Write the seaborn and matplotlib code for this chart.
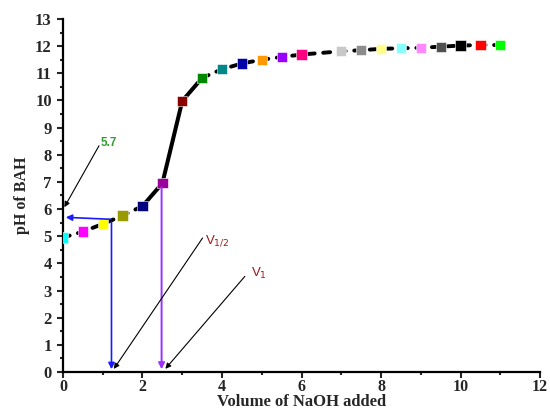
import matplotlib
matplotlib.use("Agg")
import matplotlib.pyplot as plt
from matplotlib.ticker import MultipleLocator
import seaborn as sns
import pandas as pd

# titration data
volume = [0, 0.5, 1, 1.5, 2, 2.5, 3, 3.5, 4, 4.5, 5, 5.5, 6,
          7, 7.5, 8, 8.5, 9, 9.5, 10, 10.5, 11]
ph = [4.95, 5.17, 5.45, 5.76, 6.11, 6.95, 9.98, 10.83, 11.15, 11.36, 11.5, 11.6, 11.69,
      11.81, 11.85, 11.9, 11.92, 11.94, 11.98, 12.02, 12.04, 12.04]
marker_colors = ['#00ffff', '#ff00ff', '#ffff00', '#999900', '#000080', '#990099',
                 '#880000', '#008800', '#008888', '#0000aa', '#ff9900', '#9900ff',
                 '#ff0080', '#c8c8c8', '#8c8c8c', '#ffff88', '#88ffff', '#ff88ff',
                 '#505050', '#000000', '#ff0000', '#00ff00']

v_half = 1.22
ph_half = 5.67
v_eq = 2.48

df = pd.DataFrame({'volume': volume, 'ph': ph, 'point': range(len(volume))})

sns.set_style("white")
plt.rcParams['font.family'] = ['Liberation Serif', 'DejaVu Serif']

fig = plt.figure(figsize=(5.5, 4.12), dpi=100)
ax = fig.add_axes([0.1145, 0.097, 0.8675, 0.857])

# curve: dashed on the flat parts, solid across the jump
steep = df[(df.volume >= 2) & (df.volume <= 3.5)]
low = df[df.volume <= 2]
high = df[df.volume >= 3.5]
for part in [low, high]:
    sns.lineplot(data=part, x='volume', y='ph', color='black', linewidth=2.8,
                 linestyle=(0, (1.8, 2.2)), dash_capstyle='round', ax=ax,
                 sort=False, zorder=2)
sns.lineplot(data=steep, x='volume', y='ph', color='black', linewidth=2.9,
             ax=ax, sort=False, zorder=2)

sns.scatterplot(data=df, x='volume', y='ph', hue='point', palette=marker_colors,
                marker='s', s=55, edgecolor='white', linewidth=0.4, legend=False,
                ax=ax, zorder=3)

# half-equivalence construction (blue) and equivalence (violet)
ax.annotate('', xy=(v_half, 0), xytext=(v_half, ph_half - 0.05),
            arrowprops=dict(arrowstyle='-|>', color='#1a1aff', lw=1.2,
                            mutation_scale=9), zorder=4)
ax.annotate('', xy=(0, ph_half + 0.03), xytext=(v_half + 0.05, ph_half - 0.05),
            arrowprops=dict(arrowstyle='-|>', color='#1a1aff', lw=1.2,
                            mutation_scale=9), zorder=4)
ax.annotate('', xy=(v_eq, 0), xytext=(v_eq, 6.9),
            arrowprops=dict(arrowstyle='-|>', color='#9b30ff', lw=1.4,
                            mutation_scale=9), zorder=4)

# labels with pointer arrows
ax.annotate('', xy=(0, 5.98), xytext=(0.94, 8.42),
            arrowprops=dict(arrowstyle='-|>', color='black', lw=0.8,
                            mutation_scale=8), zorder=4)
ax.annotate('', xy=(v_half + 0.02, 0.03), xytext=(3.55, 5.02),
            arrowprops=dict(arrowstyle='-|>', color='black', lw=0.8,
                            mutation_scale=8), zorder=4)
ax.annotate('', xy=(v_eq + 0.05, 0.04), xytext=(4.62, 3.6),
            arrowprops=dict(arrowstyle='-|>', color='black', lw=0.8,
                            mutation_scale=8), zorder=4)
ax.text(0.95, 8.45, '5.7', color='#2e9e2e', fontsize=8.5, fontweight='bold',
        family='Liberation Sans', ha='left', va='center')
ax.text(3.57, 4.85, r'V$_{1/2}$', color='#a01818', fontsize=9.5,
        family='Liberation Sans', ha='left', va='center')
ax.text(4.73, 3.62, r'V$_{1}$', color='#a01818', fontsize=9.5,
        family='Liberation Sans', ha='left', va='center')

ax.set_xlim(0, 12)
ax.set_ylim(0, 13)
ax.xaxis.set_major_locator(MultipleLocator(2))
ax.xaxis.set_minor_locator(MultipleLocator(1))
ax.yaxis.set_major_locator(MultipleLocator(1))
ax.yaxis.set_minor_locator(MultipleLocator(0.5))
ax.tick_params(which='major', direction='out', length=4, width=1.5,
               labelsize=12, pad=4, bottom=True, left=True)
ax.tick_params(which='minor', direction='out', length=2.5, width=1.5,
               bottom=True, left=True)
ax.tick_params(axis='x', which='major', pad=1, labelsize=11.5)
for lab in ax.get_xticklabels() + ax.get_yticklabels():
    lab.set_fontweight('bold')

ax.set_xlabel('Volume of NaOH added', fontsize=12, fontweight='bold', labelpad=-1)
ax.set_ylabel('pH of BAH', fontsize=11.5, fontweight='bold', labelpad=4)

sns.despine(ax=ax)
for side in ['left', 'bottom']:
    ax.spines[side].set_linewidth(1.6)
    ax.spines[side].set_color('black')

fig.savefig('out.png', dpi=100)
